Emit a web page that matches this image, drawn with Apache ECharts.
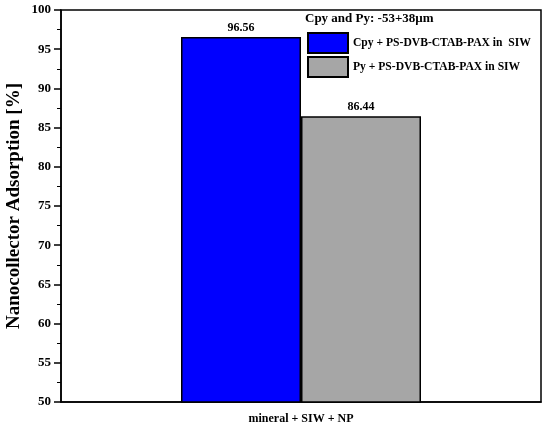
<!DOCTYPE html>
<html>
<head>
<meta charset="utf-8">
<script src="https://cdn.jsdelivr.net/npm/echarts@6/dist/echarts.min.js"></script>
<style>
html,body{margin:0;padding:0;background:#fff;}
#c{width:550px;height:430px;}
</style>
</head>
<body>
<div id="c"></div>
<script>
var categories = ['mineral + SIW + NP'];
var cpyValues = [96.56];
var pyValues = [86.44];
var seriesNames = ['Cpy + PS-DVB-CTAB-PAX in  SIW', 'Py + PS-DVB-CTAB-PAX in SIW'];
var legendTitle = 'Cpy and Py: -53+38\u00b5m';

var font = 'Liberation Serif';
var chart = echarts.init(document.getElementById('c'));

var option = {
   backgroundColor: '#fff',
   animation: false,
   grid: {
      left: 61, right: 9, top: 10, bottom: 28,
      outerBoundsMode: 'none', containLabel: false,
      show: true, borderColor: '#000', borderWidth: 1.5
   },
   title: {
      text: legendTitle,
      left: 305, top: 12, padding: 0,
      textStyle: {fontFamily: font, fontWeight: 'bold', fontSize: 13, color: '#000'}
   },
   legend: {
      orient: 'vertical',
      left: 307, top: 32, padding: 0,
      itemWidth: 40, itemHeight: 20, itemGap: 2,
      icon: 'rect',
      textStyle: {fontFamily: font, fontWeight: 'bold', fontSize: 11.6, color: '#000'},
      data: seriesNames
   },
   xAxis: {
      type: 'category',
      data: categories,
      axisLine: {lineStyle: {color: '#000', width: 1.5}},
      axisTick: {alignWithLabel: true, length: 7, lineStyle: {color: '#000', width: 1.5}},
      axisLabel: {fontFamily: font, fontWeight: 'bold', fontSize: 12, color: '#000', margin: 11}
   },
   yAxis: {
      type: 'value',
      min: 50, max: 100, interval: 5,
      name: 'Nanocollector Adsorption [%]',
      nameLocation: 'middle',
      nameGap: 37,
      nameMoveOverlap: false,
      nameTextStyle: {fontFamily: font, fontWeight: 'bold', fontSize: 19, color: '#000'},
      axisLine: {show: true, lineStyle: {color: '#000', width: 1.5}},
      axisTick: {show: true, length: 7, lineStyle: {color: '#000', width: 1.5}},
      minorTick: {show: true, splitNumber: 2, length: 4, lineStyle: {color: '#000', width: 1}},
      splitLine: {show: false},
      axisLabel: {fontFamily: font, fontWeight: 'bold', fontSize: 13, color: '#000', margin: 10}
   },
   series: [{
      name: seriesNames[0],
      type: 'bar',
      data: cpyValues,
      barWidth: 120,
      barGap: 0,
      itemStyle: {color: '#0000ff', borderColor: '#000', borderWidth: 1.5},
      label: {show: true, position: 'top', distance: 3,
         fontFamily: font, fontWeight: 'bold', fontSize: 12, color: '#000'}
   }, {
      name: seriesNames[1],
      type: 'bar',
      data: pyValues,
      barWidth: 120,
      barGap: 0,
      itemStyle: {color: '#a6a6a6', borderColor: '#000', borderWidth: 1.5},
      label: {show: true, position: 'top', distance: 3,
         fontFamily: font, fontWeight: 'bold', fontSize: 12, color: '#000'}
   }]
};
chart.setOption(option);
</script>
</body>
</html>
